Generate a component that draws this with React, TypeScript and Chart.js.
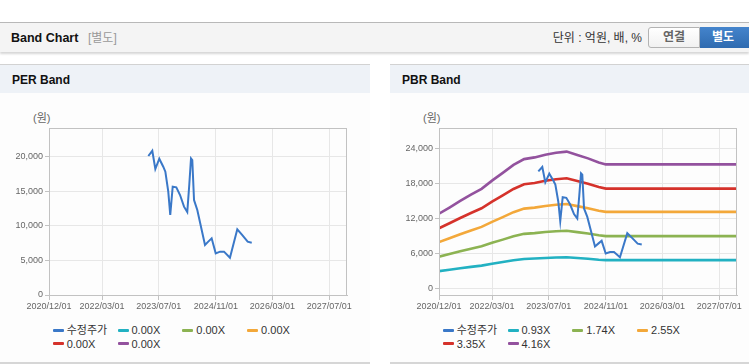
import React, { useEffect, useRef } from "react";
import { Chart, registerables } from "chart.js";
Chart.register(...registerables);

// ---------- data ----------
const xTickDates = ["2020/12/01", "2022/03/01", "2023/07/01", "2024/11/01", "2026/03/01", "2027/07/01"];
const xRange = ["2020/12/01", "2027/12/01"];

const priceDates = [
  "2023/04/02", "2023/05/06", "2023/06/01", "2023/07/05", "2023/08/08", "2023/08/26",
  "2023/09/20", "2023/10/07", "2023/10/28", "2023/11/28", "2023/12/30", "2024/02/02",
  "2024/03/01", "2024/03/18", "2024/04/02", "2024/04/13", "2024/04/28", "2024/05/26",
  "2024/07/31", "2024/08/28", "2024/09/26", "2024/10/31", "2024/12/07", "2025/01/10",
  "2025/03/02", "2025/05/04", "2025/06/16", "2025/08/01", "2025/09/05",
];
const priceValues = [
  20140, 20900, 18260, 19750, 18590, 17870,
  14970, 11590, 15700, 15600, 14490, 12800,
  12030, 15940, 19800, 19560, 13770, 12320,
  7250, 7730, 8210, 6040, 6280, 6280,
  5400, 9520, 8680, 7730, 7580,
];

const bandDates = [
  "2020/12/01", "2021/03/01", "2021/06/01", "2021/09/01", "2021/12/01", "2022/03/01",
  "2022/06/01", "2022/09/01", "2022/12/01", "2023/03/01", "2023/06/01", "2023/09/01",
  "2023/12/01", "2024/03/01", "2024/06/01", "2024/09/01", "2024/11/01", "2027/12/01",
];
const pbrBand093 = [2998, 3236, 3487, 3728, 3952, 4268, 4565, 4872, 5096, 5161, 5263, 5337, 5384, 5254, 5123, 4965, 4891, 4891];
const pbrBand174 = [5485, 5929, 6399, 6851, 7269, 7860, 8417, 8991, 9409, 9531, 9722, 9861, 9948, 9705, 9461, 9165, 9026, 9026];
const pbrBand255 = [7992, 8643, 9331, 9994, 10606, 11473, 12289, 13131, 13743, 13921, 14202, 14406, 14533, 14176, 13819, 13386, 13182, 13182];
const pbrBand335 = [10368, 11223, 12127, 12998, 13802, 14941, 16013, 17119, 17923, 18157, 18526, 18794, 18961, 18492, 18023, 17454, 17186, 17186];
const pbrBand416 = [12875, 13936, 15059, 16141, 17139, 18554, 19885, 21258, 22256, 22547, 23005, 23338, 23546, 22963, 22381, 21674, 21341, 21341];

const perTicks = [0, 5000, 10000, 15000, 20000];
const pbrTicks = [0, 6000, 12000, 18000, 24000];
const perRange = [0, 24200];
const pbrRange = [-1100, 27600];

const perLegend = ["수정주가", "0.00X", "0.00X", "0.00X", "0.00X", "0.00X"];
const pbrLegend = ["수정주가", "0.93X", "1.74X", "2.55X", "3.35X", "4.16X"];

// ---------- styles ----------
const lineColors = ["#3a78c8", "#22b1c2", "#8cb352", "#f3a83a", "#d5322b", "#93529e"];
const FONT = "'Liberation Sans', Arial, 'Noto Sans CJK KR', sans-serif";

const toTs = (s: string) => {
  const [y, m, d] = s.split("/").map(Number);
  return Date.UTC(y, m - 1, d);
};
const toPoints = (dates: string[], vals: number[]) => dates.map((d, i) => ({ x: toTs(d), y: vals[i] }));

const framePlugin = {
  id: "frame",
  afterDraw(chart: any) {
    const { ctx, chartArea: a } = chart;
    ctx.save();
    ctx.strokeStyle = "#c2c2c2";
    ctx.lineWidth = 1;
    ctx.strokeRect(Math.round(a.left) + 0.5, Math.round(a.top) + 0.5, Math.round(a.right - a.left) - 1, Math.round(a.bottom - a.top));
    ctx.restore();
  },
};

type ChartProps = {
  bands: (number[] | null)[];
  yTicks: number[];
  yRange: number[];
  width: number;
  padRight: number;
};

function BandCanvas({ bands, yTicks, yRange, width, padRight }: ChartProps) {
  const ref = useRef<HTMLCanvasElement>(null);
  useEffect(() => {
    const datasets: any[] = [
      {
        label: "수정주가",
        data: toPoints(priceDates, priceValues),
        borderColor: lineColors[0],
        borderWidth: 2,
        pointRadius: 0,
        tension: 0,
      },
      ...bands.map((b, i) => ({
        label: "band" + i,
        data: b ? toPoints(bandDates, b) : [],
        borderColor: lineColors[i + 1],
        borderWidth: 2.6,
        pointRadius: 0,
        tension: 0,
      })),
    ];
    const chart = new Chart(ref.current as HTMLCanvasElement, {
      type: "line",
      data: { datasets },
      plugins: [framePlugin],
      options: {
        animation: false,
        responsive: false,
        events: [],
        layout: { padding: { left: 0, right: padRight, top: 35, bottom: 0 } },
        plugins: { legend: { display: false }, tooltip: { enabled: false } },
        scales: {
          x: {
            type: "linear",
            min: toTs(xRange[0]),
            max: toTs(xRange[1]),
            bounds: "data",
            afterBuildTicks: (scale: any) => {
              scale.ticks = xTickDates.map((d) => ({ value: toTs(d) }));
            },
            afterFit: (scale: any) => {
              scale.height = 20;
            },
            grid: { color: "#e7e7e7", tickLength: 5, tickColor: "#c2c2c2", drawTicks: true },
            border: { color: "#c2c2c2" },
            ticks: {
              autoSkip: false,
              maxRotation: 0,
              padding: 1,
              color: "#666",
              font: { family: FONT, size: 9 },
              callback: (_v: any, i: number) => xTickDates[i],
            },
          },
          y: {
            type: "linear",
            min: yRange[0],
            max: yRange[1],
            bounds: "data",
            afterBuildTicks: (scale: any) => {
              scale.ticks = yTicks.map((v) => ({ value: v }));
            },
            afterFit: (scale: any) => {
              scale.width = 49;
            },
            grid: { color: "#e7e7e7", tickLength: 4, tickColor: "#c2c2c2", drawTicks: true },
            border: { color: "#c2c2c2" },
            ticks: {
              padding: 2,
              color: "#666",
              font: { family: FONT, size: 9 },
              callback: (_v: any, i: number) => yTicks[i].toLocaleString("en-US"),
            },
          },
        },
      } as any,
    });
    return () => chart.destroy();
  }, []);
  return <canvas ref={ref} width={width} height={222} style={{ display: "block", width, height: 222 }} />;
}

function Legend({ labels, left }: { labels: string[]; left: number }) {
  return (
    <>
      {labels.map((t, i) => {
        const row = i < 4 ? 0 : 1;
        const col = i < 4 ? i : i - 4;
        const x = left + 52.7 + col * 64.8;
        const y = row === 0 ? 330 : 343.5;
        return (
          <div key={i} style={{ position: "absolute", left: x, top: y - 7, height: 14, display: "flex", alignItems: "center", whiteSpace: "nowrap" }}>
            <div style={{ width: 11, height: 3, background: lineColors[i], borderRadius: 1 }} />
            <div style={{ marginLeft: 3, fontSize: 11, color: "#333", lineHeight: "14px", fontFamily: FONT }}>{t}</div>
          </div>
        );
      })}
    </>
  );
}

function Panel({ left, width, title, children }: { left: number; width: number; title: string; children?: React.ReactNode }) {
  return (
    <>
      <div style={{ position: "absolute", left, top: 64, width, height: 1, background: "#d2d2d2" }} />
      <div style={{ position: "absolute", left, top: 65, width, height: 28, background: "#eef2f7" }} />
      <div style={{ position: "absolute", left, top: 93, width, height: 269, background: "#fdfdfd" }} />
      <div style={{ position: "absolute", left, top: 362, width, height: 2, background: "#d6d6d6" }} />
      <div style={{ position: "absolute", left: left + 12, top: 72, height: 17, lineHeight: "17px", fontWeight: "bold", fontSize: 12, color: "#111" }}>{title}</div>
      <div style={{ position: "absolute", left: left + 33, top: 111, height: 14, lineHeight: "14px", fontSize: 11, color: "#666" }}>(원)</div>
      {children}
    </>
  );
}

export default function App() {
  return (
    <div style={{ position: "absolute", left: 0, top: 0, width: 749, height: 364, overflow: "hidden", background: "#fff", fontFamily: FONT }}>
      {/* header */}
      <div style={{ position: "absolute", left: 0, top: 22, width: 749, height: 1, background: "#b8b8b8" }} />
      <div style={{ position: "absolute", left: 0, top: 23, width: 749, height: 29, background: "#f4f4f4", boxShadow: "0 2px 2px rgba(0,0,0,0.16)" }} />
      <div style={{ position: "absolute", left: 11, top: 30, height: 17, lineHeight: "17px", fontWeight: "bold", fontSize: 12.5, color: "#111" }}>Band Chart</div>
      <div style={{ position: "absolute", left: 88, top: 30, height: 17, lineHeight: "17px", fontSize: 12, color: "#999" }}>[별도]</div>
      <div style={{ position: "absolute", right: 749 - 642, top: 30, height: 17, lineHeight: "17px", fontSize: 12, color: "#333", whiteSpace: "nowrap" }}>단위 : 억원, 배, %</div>
      <div style={{ position: "absolute", left: 648, top: 27, width: 52, height: 21, boxSizing: "border-box", border: "1px solid #b3b3b3", borderRadius: "3px 0 0 3px", background: "linear-gradient(#ffffff, #f1f1f1)", textAlign: "center", lineHeight: "19px", fontSize: 12, fontWeight: "bold", color: "#666" }}>연결</div>
      <div style={{ position: "absolute", left: 700, top: 27, width: 52, height: 21, boxSizing: "border-box", paddingRight: 6, background: "linear-gradient(#4484cc, #2f6bb0)", textAlign: "center", lineHeight: "21px", fontSize: 12, fontWeight: "bold", color: "#fff" }}>별도</div>

      <Panel left={0} width={370} title="PER Band">
        <div style={{ position: "absolute", left: 0, top: 93 }}>
          <BandCanvas bands={[null, null, null, null, null]} yTicks={perTicks} yRange={perRange} width={370} padRight={23} />
        </div>
        <Legend labels={perLegend} left={0} />
      </Panel>
      <Panel left={390} width={359} title="PBR Band">
        <div style={{ position: "absolute", left: 390, top: 93 }}>
          <BandCanvas bands={[pbrBand093, pbrBand174, pbrBand255, pbrBand335, pbrBand416]} yTicks={pbrTicks} yRange={pbrRange} width={359} padRight={12} />
        </div>
        <Legend labels={pbrLegend} left={390} />
      </Panel>
    </div>
  );
}
